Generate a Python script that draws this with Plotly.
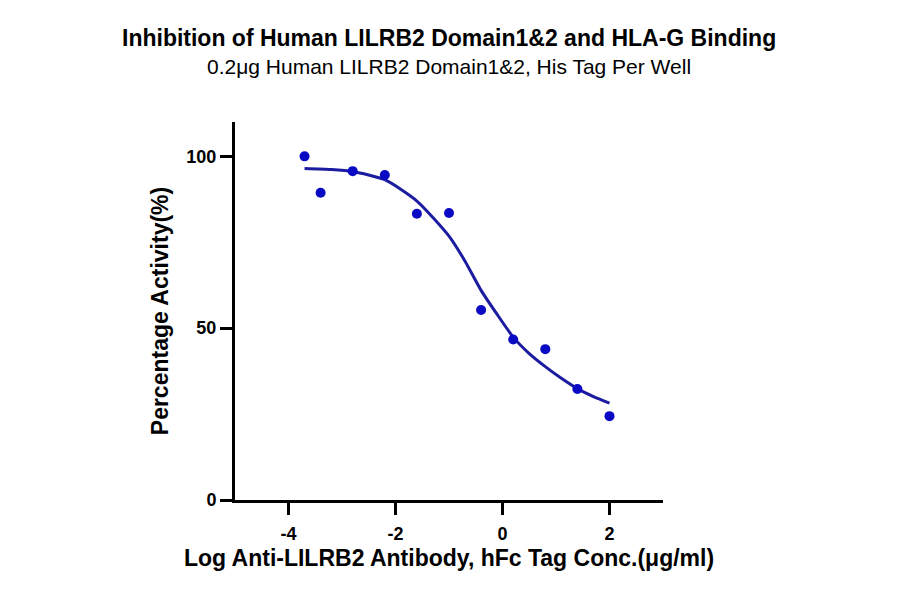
import plotly.graph_objects as go

# measured points (log conc, % activity)
log_conc = [-3.7, -3.4, -2.8, -2.2, -1.6, -1.0, -0.4, 0.2, 0.8, 1.4, 2.0]
activity = [100.0, 89.4, 95.7, 94.6, 83.3, 83.5, 55.3, 46.7, 43.9, 32.3, 24.4]

# fitted curve
fit_x = [-3.7, -3.2, -2.8, -2.2, -1.6, -1.0, -0.7, -0.4, -0.1, 0.2, 0.5, 0.8, 1.1, 1.4, 1.7, 2.0]
fit_y = [96.5, 96.2, 95.6, 93.2, 87.0, 76.8, 69.5, 61.0, 54.0, 47.4, 42.6, 38.8, 35.4, 32.4, 30.1, 28.2]

x_ticks = [-4, -2, 0, 2]
x_labels = ["-4", "-2", "0", "2"]
y_ticks = [0, 50, 100]

title = "Inhibition of Human LILRB2 Domain1&2 and HLA-G Binding"
subtitle = "0.2μg Human LILRB2 Domain1&2, His Tag Per Well"

font = "Liberation Sans, Arial, sans-serif"

fig = go.Figure()

fig.add_trace(go.Scatter(
    x=fit_x, y=fit_y,
    mode="lines",
    line=dict(color="#1c1ca0", width=3, shape="spline", smoothing=0.6),
    showlegend=False,
    hoverinfo="skip",
))

fig.add_trace(go.Scatter(
    x=log_conc, y=activity,
    mode="markers",
    marker=dict(color="#0a0ac4", size=10, line=dict(width=0)),
    showlegend=False,
))

axis_common = dict(
    showgrid=False,
    zeroline=False,
    showline=True,
    linecolor="black",
    linewidth=3,
    ticks="outside",
    ticklen=12,
    tickwidth=3,
    tickcolor="black",
    tickfont=dict(family=font, size=18, color="black", weight="bold"),
)

# title and subtitle as annotations so the spacing can be set
fig.add_annotation(
    text="<b>" + title + "</b>",
    xref="paper", yref="paper", x=0.5, y=1.222,
    xanchor="center", yanchor="middle", showarrow=False,
    font=dict(family=font, size=23, color="black"),
)
fig.add_annotation(
    text=subtitle,
    xref="paper", yref="paper", x=0.5, y=1.148,
    xanchor="center", yanchor="middle", showarrow=False,
    font=dict(family=font, size=21, color="black"),
)

# page body adds 8px around the plot, margins account for it
fig.update_layout(
    width=900,
    height=594,
    paper_bgcolor="white",
    plot_bgcolor="white",
    margin=dict(l=227, r=245, t=114, b=102),
    xaxis=dict(
        axis_common,
        range=[-5, 3],
        tickvals=x_ticks,
        ticktext=x_labels,
        ticklabelstandoff=3,
        title=dict(
            text="<b>Log Anti-LILRB2 Antibody, hFc Tag Conc.(μg/ml)</b>",
            font=dict(family=font, size=23, color="black"),
            standoff=8,
        ),
    ),
    yaxis=dict(
        axis_common,
        range=[0, 110],
        tickvals=y_ticks,
        title=dict(
            text="<b>Percentage Activity(%)</b>",
            font=dict(family=font, size=23, color="black"),
            standoff=12,
        ),
    ),
)

fig.write_html("out.html")
